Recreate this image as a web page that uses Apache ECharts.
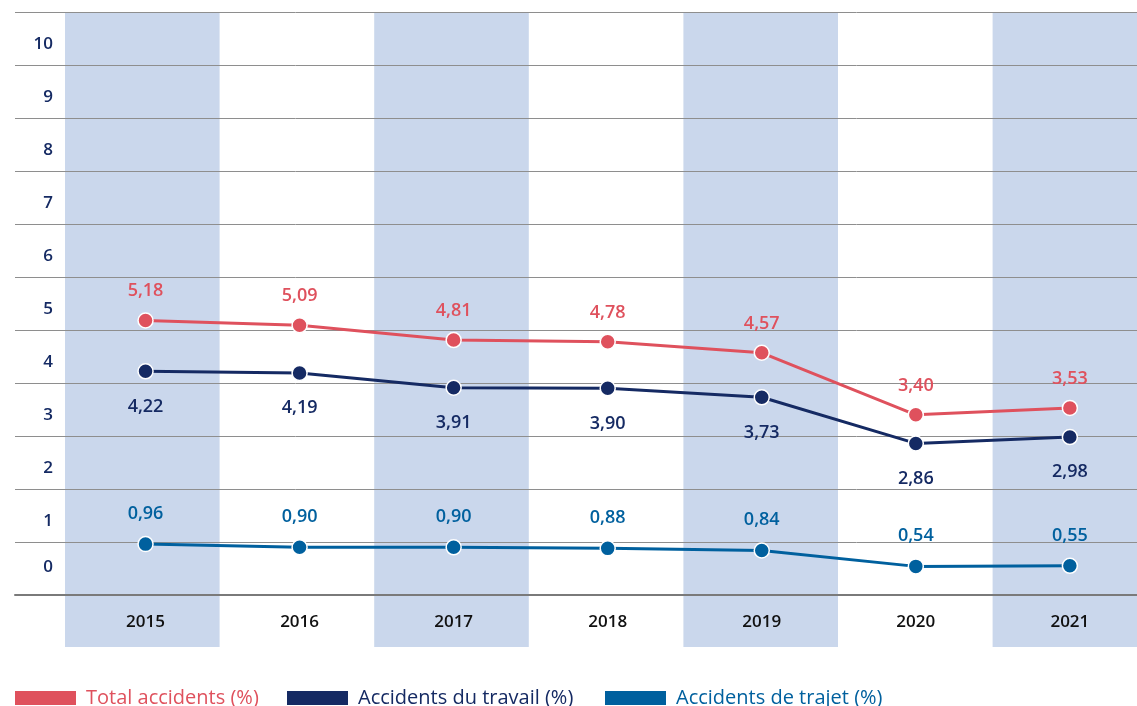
<!DOCTYPE html>
<html>
<head>
<meta charset="utf-8">
<script src="https://cdn.jsdelivr.net/npm/echarts@6/dist/echarts.min.js"></script>
<style>
  html, body { margin: 0; padding: 0; background: #ffffff; }
  #chart { width: 1137px; height: 706px; }
</style>
</head>
<body>
<div id="chart"></div>
<script>
const categories = ['2015', '2016', '2017', '2018', '2019', '2020', '2021'];
const totalAccidents = [5.18, 5.09, 4.81, 4.78, 4.57, 3.40, 3.53];
const accidentsTravail = [4.22, 4.19, 3.91, 3.90, 3.73, 2.86, 2.98];
const accidentsTrajet = [0.96, 0.90, 0.90, 0.88, 0.84, 0.54, 0.55];
const seriesNames = ['Total accidents (%)', 'Accidents du travail (%)', 'Accidents de trajet (%)'];
const seriesColors = ['#df515d', '#152a63', '#00609e'];

const FONT = 'Open Sans';
const fmt = v => v.toFixed(2).replace('.', ',');

const chart = echarts.init(document.getElementById('chart'), null, { renderer: 'canvas' });

function lineSeries(i, data, pos, dist) {
  return {
    name: seriesNames[i],
    type: 'line',
    xAxisIndex: 0,
    yAxisIndex: 0,
    data: data,
    symbol: 'circle',
    symbolSize: 15,
    lineStyle: { color: seriesColors[i], width: 3 },
    itemStyle: { color: seriesColors[i], borderColor: '#ffffff', borderWidth: 1.5 },
    label: {
      show: true,
      position: pos,
      distance: dist,
      color: seriesColors[i],
      fontFamily: FONT,
      fontSize: 18,
      fontWeight: 600,
      formatter: p => fmt(p.value)
    },
    emphasis: { disabled: true },
    z: 5
  };
}

function legendFor(i, left) {
  return {
    data: [seriesNames[i]],
    left: left,
    top: 688,
    padding: 0,
    itemWidth: 63,
    itemHeight: 16,
    icon: 'rect',
    selectedMode: false,
    textStyle: {
      color: seriesColors[i],
      fontFamily: FONT,
      fontSize: 20,
      padding: [0, 0, 0, 4]
    }
  };
}

const option = {
  animation: false,
  backgroundColor: '#ffffff',
  legend: [legendFor(0, 13), legendFor(1, 285), legendFor(2, 603)],
  grid: [
    { left: 68.5, top: 12, width: 1078.4, height: 583, outerBoundsMode: 'none', containLabel: false },
    { left: 65, top: 12, width: 1082.2, height: 635, outerBoundsMode: 'none', containLabel: false },
    { left: 15, top: 12, width: 1122, height: 583, outerBoundsMode: 'none', containLabel: false }
  ],
  xAxis: [
    {
      gridIndex: 0, type: 'category', data: categories, boundaryGap: true,
      axisLine: { show: false }, axisTick: { show: false }, splitLine: { show: false },
      axisLabel: { interval: 0, margin: 19, color: '#111111', fontFamily: FONT, fontSize: 17, fontWeight: 600 }
    },
    {
      gridIndex: 1, type: 'category', data: categories, boundaryGap: true, z: -1,
      axisLine: { show: false }, axisTick: { show: false, interval: 0 }, axisLabel: { show: false },
      splitLine: { show: false },
      splitArea: { show: true, interval: 0, areaStyle: { color: ['#cad7ec', 'rgba(255,255,255,0)'] } }
    },
    {
      gridIndex: 2, type: 'value', min: 0, max: 1, z: 3,
      axisLine: { show: true, lineStyle: { color: '#7a7a7a', width: 2 } },
      axisTick: { show: false }, axisLabel: { show: false }, splitLine: { show: false }
    }
  ],
  yAxis: [
    {
      gridIndex: 0, type: 'value', min: 0, max: 11, interval: 1,
      axisLine: { show: false }, axisTick: { show: false }, axisLabel: { show: false }, splitLine: { show: false }
    },
    {
      gridIndex: 1, type: 'value', min: 0, max: 1, show: false
    },
    {
      gridIndex: 2, type: 'value', min: 0, max: 11, interval: 1, z: 2,
      axisLine: { show: false }, axisTick: { show: false },
      splitLine: { show: true, lineStyle: { color: '#8e8e8e', width: 1 } },
      axisLabel: {
        inside: true,
        margin: 38,
        align: 'right',
        verticalAlign: 'bottom',
        color: '#152a63',
        fontFamily: FONT,
        fontSize: 17,
        fontWeight: 600,
        formatter: v => v === 11 ? '' : (v === 0 ? '{z|0}' : '{n|' + v + '}'),
        rich: {
          n: { padding: [0, 0, 12, 0], fontFamily: FONT, fontSize: 17, fontWeight: 600, color: '#152a63' },
          z: { padding: [0, 0, 19, 0], fontFamily: FONT, fontSize: 17, fontWeight: 600, color: '#152a63' }
        }
      }
    }
  ],
  series: [
    lineSeries(0, totalAccidents, 'top', 12),
    lineSeries(1, accidentsTravail, 'bottom', 18),
    lineSeries(2, accidentsTrajet, 'top', 13)
  ]
};

chart.setOption(option);
</script>
</body>
</html>
